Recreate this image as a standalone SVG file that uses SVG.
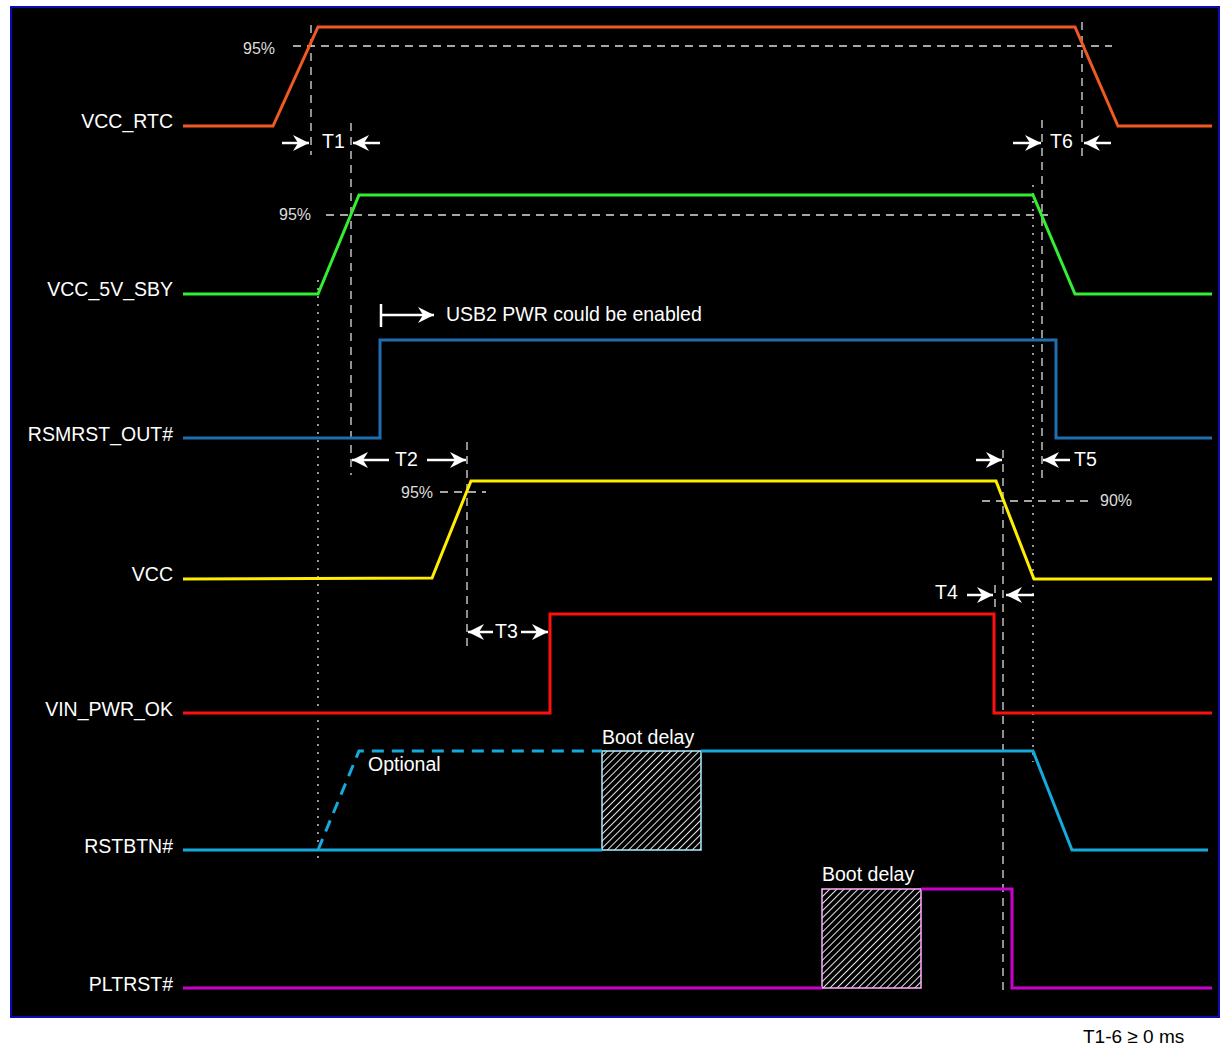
<svg xmlns="http://www.w3.org/2000/svg" width="1222" height="1048" viewBox="0 0 1222 1048">
<style>
.lbl{font-family:"Liberation Sans",Arial,sans-serif;font-size:19.5px;fill:#fff}
.rl{text-anchor:end}
.pct{font-family:"Liberation Sans",Arial,sans-serif;font-size:16px;fill:#ddd}
.sig{fill:none;stroke-width:3;stroke-linejoin:miter}
.dash{fill:none;stroke:#ddd;stroke-width:1.3;stroke-dasharray:8,6}
.dot{fill:none;stroke:#e8e8e8;stroke-width:1.3;stroke-dasharray:2,6}
.arr{fill:none;stroke:#fff;stroke-width:2.5;marker-end:url(#ah)}
</style>
<defs>
<marker id="ah" markerUnits="userSpaceOnUse" markerWidth="17" markerHeight="17" refX="16" refY="8" orient="auto">
<path d="M0,0 L16,8 L0,16 L5,8 z" fill="#fff"/>
</marker>
<pattern id="hatch" patternUnits="userSpaceOnUse" width="5" height="5" patternTransform="rotate(45)">
<rect width="5" height="5" fill="#000"/>
<line x1="0" y1="0" x2="0" y2="5" stroke="#fff" stroke-width="1.8"/>
</pattern>
</defs>
<rect x="0" y="0" width="1222" height="1048" fill="#fff"/>
<rect x="11" y="7" width="1208" height="1010" fill="#000" stroke="#0b0bb4" stroke-width="2"/>

<g id="guides">
<line class="dash" x1="293" y1="46" x2="1112" y2="46"/>
<line class="dash" x1="326" y1="215" x2="1052" y2="215"/>
<line class="dash" x1="440" y1="492" x2="486" y2="492"/>
<line class="dash" x1="982" y1="501" x2="1090" y2="501"/>
<line class="dash" x1="311" y1="25" x2="311" y2="155"/>
<line class="dash" x1="351" y1="123" x2="351" y2="475"/>
<line class="dash" x1="1082" y1="22" x2="1082" y2="160"/>
<line class="dash" x1="1042" y1="120" x2="1042" y2="478"/>
<line class="dash" x1="467" y1="442" x2="467" y2="646"/>
<line class="dash" x1="1003" y1="450" x2="1003" y2="995"/>
<line class="dash" x1="995" y1="585" x2="995" y2="612"/>
<line class="dot" x1="318" y1="280" x2="318" y2="860"/>
<line class="dot" x1="1033" y1="185" x2="1033" y2="762"/>
</g>

<g id="VCC_RTC">
<text class="lbl rl" x="173" y="128">VCC_RTC</text>
<polyline class="sig" stroke="#f05a22" points="183,126 273,126 318,27 1075,27 1118,126 1212,126"/>
<text class="pct" x="243" y="54">95%</text>
</g>
<g id="VCC_5V_SBY">
<text class="lbl rl" x="173" y="296">VCC_5V_SBY</text>
<polyline class="sig" stroke="#33ee33" points="183,294 318,294 359,195 1033,195 1075,294 1212,294"/>
<text class="pct" x="279" y="220">95%</text>
</g>
<g id="RSMRST_OUT">
<text class="lbl rl" x="173" y="441">RSMRST_OUT#</text>
<polyline class="sig" stroke="#1e6eb0" points="183,438 380,438 380,340 1056,340 1056,438 1212,438"/>
</g>
<g id="VCC">
<text class="lbl rl" x="173" y="581">VCC</text>
<polyline class="sig" stroke="#ffee00" points="183,579 432,578 471,481 996,481 1034,579 1212,579"/>
<text class="pct" x="401" y="498">95%</text>
<text class="pct" x="1100" y="506">90%</text>
</g>
<g id="VIN_PWR_OK">
<text class="lbl rl" x="173" y="716">VIN_PWR_OK</text>
<polyline class="sig" stroke="#ff1010" points="183,713 550,713 550,614 994,614 994,713 1212,713"/>
</g>
<g id="RSTBTN">
<text class="lbl rl" x="173" y="853">RSTBTN#</text>
<rect x="602" y="751" width="99" height="99" fill="url(#hatch)" stroke="#aeeeff" stroke-width="1.5"/>
<polyline class="sig" stroke="#16aadc" points="183,850 602,850"/>
<polyline class="sig" stroke="#16aadc" points="701,751 1033,751 1072,850 1208,850"/>
<polyline class="sig" stroke="#16aadc" stroke-dasharray="12,8" points="318,850 359,751 602,751"/>
<text class="lbl" x="368" y="771">Optional</text>
<text class="lbl" x="602" y="744">Boot delay</text>
</g>
<g id="PLTRST">
<text class="lbl rl" x="173" y="991">PLTRST#</text>
<rect x="822" y="889" width="99" height="99" fill="url(#hatch)" stroke="#ffb0ff" stroke-width="1.5"/>
<polyline class="sig" stroke="#cc00cc" points="183,988 822,988"/>
<polyline class="sig" stroke="#cc00cc" points="921,889 1012,889 1012,988 1212,988"/>
<text class="lbl" x="822" y="881">Boot delay</text>
</g>

<g id="connectors">
<line class="arr" x1="282" y1="143" x2="309" y2="143"/>
<line class="arr" x1="380" y1="143" x2="353" y2="143"/>
<line class="arr" x1="1013" y1="143" x2="1041" y2="143"/>
<line class="arr" x1="1111" y1="143" x2="1084" y2="143"/>
<line class="arr" x1="389" y1="460" x2="352" y2="460"/>
<line class="arr" x1="427" y1="460" x2="466" y2="460"/>
<line class="arr" x1="976" y1="460" x2="1002" y2="460"/>
<line class="arr" x1="1070" y1="460" x2="1043" y2="460"/>
<line class="arr" x1="967" y1="595" x2="993" y2="595"/>
<line class="arr" x1="1034" y1="595" x2="1006" y2="595"/>
<line class="arr" x1="493" y1="632" x2="468" y2="632"/>
<line class="arr" x1="521" y1="632" x2="548" y2="632"/>
<line x1="381" y1="304" x2="381" y2="327" stroke="#fff" stroke-width="2.5"/>
<line class="arr" x1="381" y1="315" x2="434" y2="315"/>
</g>

<g id="timing-labels">
<text class="lbl" x="322" y="148">T1</text>
<text class="lbl" x="1050" y="148">T6</text>
<text class="lbl" x="395" y="466">T2</text>
<text class="lbl" x="1074" y="466">T5</text>
<text class="lbl" x="935" y="599">T4</text>
<text class="lbl" x="495" y="638">T3</text>
<text class="lbl" x="446" y="321">USB2 PWR could be enabled</text>
<text x="1083" y="1043" font-family="'Liberation Sans',Arial,sans-serif" font-size="19" fill="#000">T1-6 ≥ 0 ms</text>
</g>
</svg>
